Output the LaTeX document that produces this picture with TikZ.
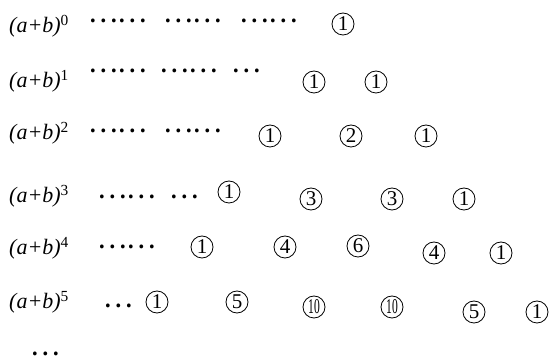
\documentclass[tikz,border=0pt]{standalone}
\usepackage{fontspec}
\usepackage{graphicx}
\setmainfont{Liberation Serif}
\newfontfamily\cjk{Noto Sans CJK SC}
\usetikzlibrary{positioning}

\tikzset{
    power/.style={anchor=base west, inner sep=0pt, font=\fontsize{22}{22}\selectfont\itshape},
    dotrow/.style={anchor=base west, inner sep=0pt, text height=9pt, text depth=0pt, font=\cjk\fontsize{28}{28}\selectfont},
    num/.style={circle, draw, line width=0.8pt, minimum size=22pt, inner sep=0pt, font=\fontsize{21}{21}\selectfont}
}
\newcommand{\pw}[1]{(a+b)\textsuperscript{\upshape #1}}
\newcommand{\ten}{\scalebox{0.55}[1]{10}}

\begin{document}
\begin{tikzpicture}[x=1pt, y=-1pt]
    \useasboundingbox (0,0) rectangle (550,358);
    % powers
    \node[power] (p0) at (9,33) {\pw{0}};
    \node[power] (p1) at (9,88) {\pw{1}};
    \node[power] (p2) at (9,140) {\pw{2}};
    \node[power] (p3) at (9,203) {\pw{3}};
    \node[power] (p4) at (9,255) {\pw{4}};
    \node[power] (p5) at (9,309) {\pw{5}};
    % dots
    \node[dotrow] (d0a) at (88,23) {……};
    \node[dotrow] (d0b) at (163,23) {……};
    \node[dotrow] (d0c) at (239,23) {……};
    \node[dotrow] (d1a) at (88,73) {……};
    \node[dotrow] (d1b) at (159,73) {……};
    \node[dotrow] (d1c) at (231,73) {…};
    \node[dotrow] (d2a) at (88,133) {……};
    \node[dotrow] (d2b) at (163,133) {……};
    \node[dotrow] (d3a) at (97,199) {……};
    \node[dotrow] (d3b) at (169,199) {…};
    \node[dotrow] (d4a) at (97,249) {……};
    \node[dotrow] (d5a) at (103,308) {…};
    \node[dotrow] (dend) at (30,356) {…};
    % row 0
    \node[num] (c00) at (343,24) {1};
    % row 1
    \node[num] (c10) at (314,82) {1};
    \node[num] (c11) at (376,82) {1};
    % row 2
    \node[num] (c20) at (270,136) {1};
    \node[num] (c21) at (351,136) {2};
    \node[num] (c22) at (426,136) {1};
    % row 3
    \node[num] (c30) at (229,192) {1};
    \node[num] (c31) at (311,199) {3};
    \node[num] (c32) at (392,199) {3};
    \node[num] (c33) at (464,199) {1};
    % row 4
    \node[num] (c40) at (202,247) {1};
    \node[num] (c41) at (285,247) {4};
    \node[num] (c42) at (358,246) {6};
    \node[num] (c43) at (434,253) {4};
    \node[num] (c44) at (501,253) {1};
    % row 5
    \node[num] (c50) at (157,302) {1};
    \node[num] (c51) at (237,302) {5};
    \node[num] (c52) at (314,307) {\ten};
    \node[num] (c53) at (392,307) {\ten};
    \node[num] (c54) at (474,312) {5};
    \node[num] (c55) at (537,312) {1};
\end{tikzpicture}
\end{document}
